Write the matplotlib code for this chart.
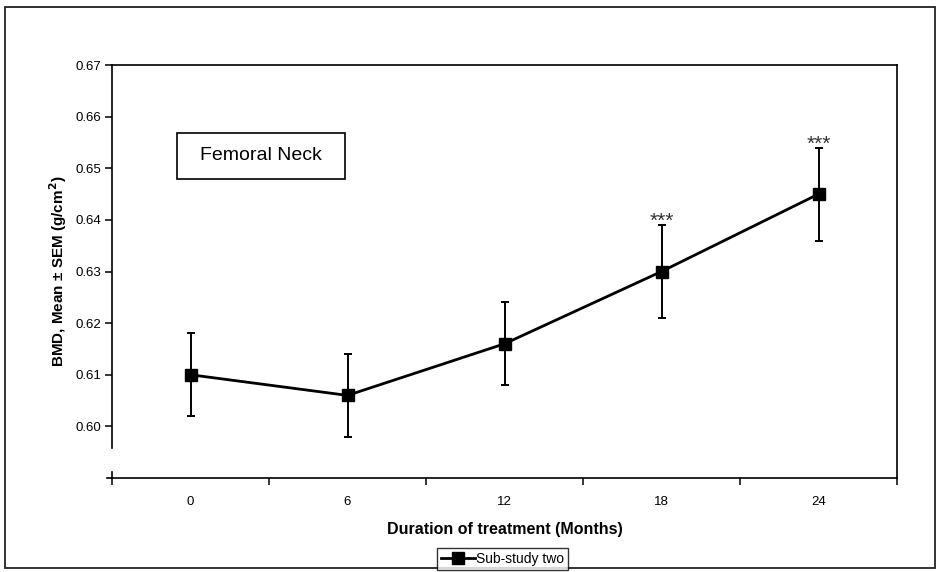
import matplotlib
matplotlib.use("Agg")
import matplotlib.pyplot as plt
from matplotlib.lines import Line2D
from matplotlib.patches import Rectangle

plt.rcParams['font.family'] = ['Liberation Sans', 'DejaVu Sans']

months = ["0", "6", "12", "18", "24"]
bmd_mean = [0.610, 0.606, 0.616, 0.630, 0.645]
bmd_sem = [0.008, 0.008, 0.008, 0.009, 0.009]
significance = ["", "", "", "***", "***"]
y_ticks = [0.60, 0.61, 0.62, 0.63, 0.64, 0.65, 0.66, 0.67]

fig = plt.figure(figsize=(9.36, 5.72), dpi=100)
ax = fig.add_axes([112 / 936, 1 - 478 / 572, (897 - 112) / 936, (478 - 65) / 572])

x = list(range(len(months)))
ax.errorbar(x, bmd_mean, yerr=bmd_sem, fmt='none', ecolor='black',
            elinewidth=1.4, capsize=3, capthick=1.4, zorder=2)
ax.plot(x, bmd_mean, color='black', lw=2.0, marker='s', markersize=9,
        zorder=3, label='Sub-study two')

for xi, m, s, star in zip(x, bmd_mean, bmd_sem, significance):
    if star:
        ax.annotate(star, xy=(xi, m + s), xytext=(0, -2),
                    textcoords='offset pixels', ha='center', va='baseline',
                    fontsize=15, color='#333333')

ax.set_xlim(-0.5, len(months) - 0.5)
ax.set_ylim(0.59, 0.67)

# category boundaries carry the tick marks, centres carry the labels
ax.set_xticks([i - 0.5 for i in range(len(months) + 1)])
ax.set_xticklabels([])
ax.set_xticks(x, minor=True)
ax.set_xticklabels(months, minor=True, fontsize=9.5)
ax.tick_params(axis='x', which='major', length=5, width=1.1, direction='out')
ax.tick_params(axis='x', which='minor', length=0, pad=13)

ax.set_yticks(y_ticks)
ax.set_yticklabels([f"{v:.2f}" for v in y_ticks], fontsize=9.5)
ax.tick_params(axis='y', length=5, width=1.1, direction='out', pad=3)

for side in ['top', 'right', 'bottom', 'left']:
    ax.spines[side].set_linewidth(1.2)
ax.spines['left'].set_bounds(0.5958, 0.67)

# broken-axis stub at the origin
ax.plot([-0.5, -0.5], [0.59, 0.5912], color='black', lw=1.2, clip_on=False)
ax.plot([-0.535, -0.5], [0.59, 0.59], color='black', lw=1.2, clip_on=False)

ax.set_xlabel("Duration of treatment (Months)", fontsize=11.5, fontweight='bold',
              labelpad=10)
ax.set_ylabel("BMD, Mean ± SEM (g/cm$^\\mathbf{2}$)", fontsize=11,
              fontweight='bold', labelpad=4)

# site label in a framed box
ax.add_patch(Rectangle((0.0828, 0.724), 0.214, 0.111, transform=ax.transAxes,
                       fill=True, fc='white', ec='black', lw=1.2, zorder=4))
ax.text(0.19, 0.78, "Femoral Neck", transform=ax.transAxes, ha='center',
        va='center', fontsize=14, zorder=5)

handle = Line2D([], [], color='black', lw=2.0, marker='s', markersize=8)
fig.legend([handle], ['Sub-study two'], loc='upper left',
           bbox_to_anchor=(437 / 936, 1 - 548 / 572), fontsize=10, frameon=True,
           fancybox=False, edgecolor='black', handlelength=2.4,
           handletextpad=0.1, borderpad=0.3, borderaxespad=0.0)

# outer frame
fig.patches.append(Rectangle((5 / 936, 4 / 572), 1 - 6 / 936, 1 - 11 / 572,
                             transform=fig.transFigure, fill=False,
                             ec='#222222', lw=1.3))

fig.savefig("out.png", dpi=100)
